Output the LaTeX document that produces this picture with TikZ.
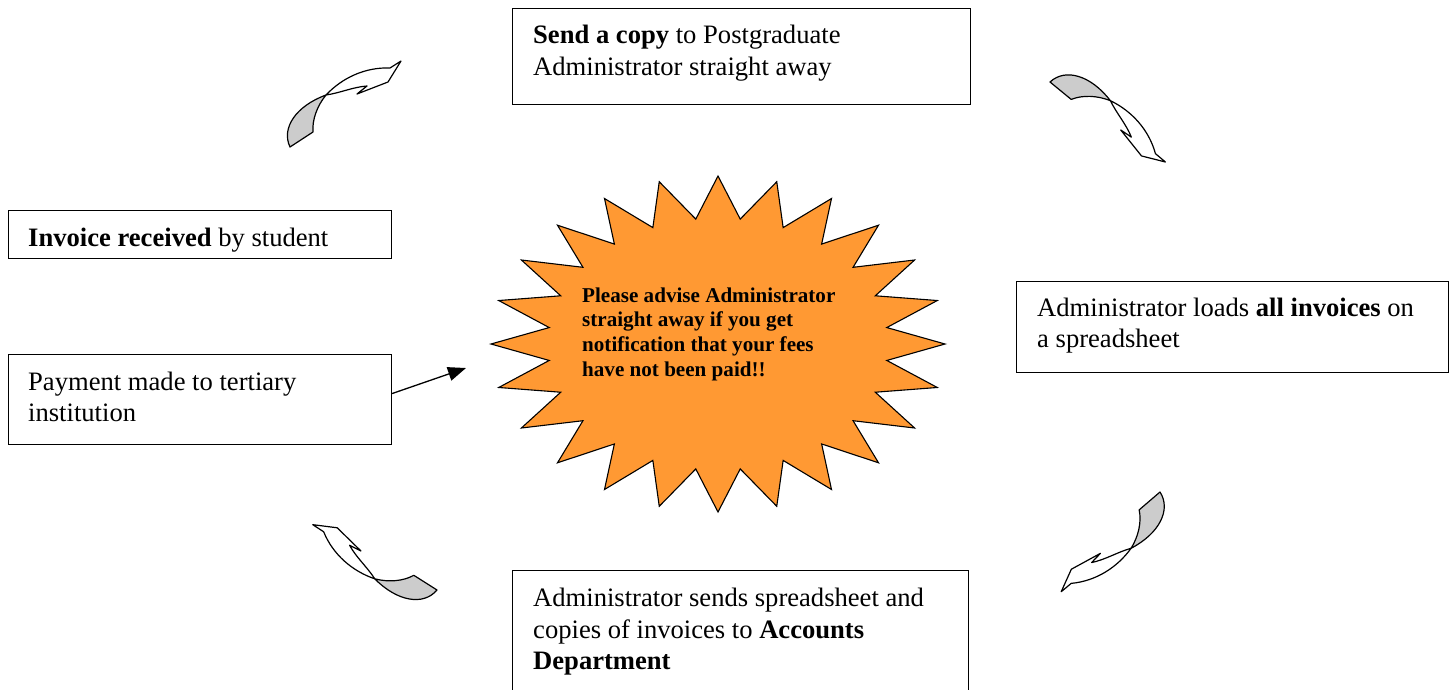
\documentclass[tikz,border=0pt]{standalone}
\usepackage{fontspec}
\setmainfont{Liberation Serif}
\usetikzlibrary{arrows.meta}
\definecolor{burst}{RGB}{255,153,51}
\definecolor{twist}{RGB}{204,204,204}
\tikzset{
  box/.style={draw, line width=1.1pt, rectangle, inner sep=0pt, anchor=north west},
  txt/.style={anchor=base west, inner sep=0pt, align=left, font=\fontsize{26.6}{31.5}\selectfont},
  msgtxt/.style={anchor=base west, inner sep=0pt, align=left, font=\bfseries\fontsize{21.1}{24.7}\selectfont},
  ribbon/.style={draw=black, line width=1.2pt, line join=round},
}
\newcommand{\twistarrowshape}{%
  \filldraw[ribbon, fill=twist]
    (290,147) .. controls (281,128) and (296,106) .. (326,95)
    .. controls (317,106) and (312,120) .. (313,132) -- cycle;
  \filldraw[ribbon, fill=white]
    (326,95) .. controls (342,78) and (365,67) .. (390,68) -- (401,61)
    -- (388,82) -- (357,94) -- (367,86)
    .. controls (353,87) and (340,93) .. (326,95) -- cycle;
}
\begin{document}
\begin{tikzpicture}[x=1pt,y=-1pt]
\useasboundingbox (0,0) rectangle (1456,689);
\clip (0,0) rectangle (1456,689);
% star burst
\begin{scope}[shift={(718,344)}]
  \filldraw[fill=burst, draw=black, line width=1.1pt, line join=miter]
    (0:227 and 168)
    \foreach \i [evaluate=\i as \r using {mod(\i,2)==0?1:0.75}] in {1,...,47}{
      -- ({\i*7.5}:{227*\r} and {168*\r})
    } -- cycle;
\end{scope}
\node[msgtxt] (msg) at (582,376.1) {Please advise Administrator\\straight away if you get\\notification that your fees\\have not been paid!!};
% boxes
\node[box, minimum width=458pt, minimum height=96pt] (copybox) at (512,8) {};
\node[txt] (copytxt) at (533,75) {\textbf{Send a copy} to Postgraduate\\Administrator straight away};
\node[box, minimum width=383pt, minimum height=48pt] (invbox) at (8,210) {};
\node[txt] (invtxt) at (28,246) {\textbf{Invoice received} by student};
\node[box, minimum width=383pt, minimum height=90pt] (paybox) at (8,354) {};
\node[txt] (paytxt) at (28,421.5) {Payment made to tertiary\\institution};
\node[box, minimum width=432pt, minimum height=91pt] (loadbox) at (1016,281) {};
\node[txt] (loadtxt) at (1037,347.5) {Administrator loads \textbf{all invoices} on\\a spreadsheet};
\node[box, minimum width=456pt, minimum height=140pt] (sendbox) at (512,570) {};
\node[txt] (sendtxt) at (533,669.5) {Administrator sends spreadsheet and\\copies of invoices to \textbf{Accounts}\\\textbf{Department}};
% connector
\coordinate (burstedge) at (466,368);
\draw[line width=1.3pt, -{Triangle[length=18pt,width=14pt]}] ([yshift=6pt]paybox.east) -- (burstedge);
% curved arrows
\begin{scope}
  \twistarrowshape
\end{scope}
\begin{scope}[shift={(1050,82)}, rotate=-72.5, shift={(-290,-147)}]
  \twistarrowshape
\end{scope}
\begin{scope}[shift={(1160,492)}, rotate=-172.5, shift={(-290,-147)}]
  \twistarrowshape
\end{scope}
\begin{scope}[shift={(437,590)}, rotate=-245.5, shift={(-290,-147)}]
  \twistarrowshape
\end{scope}
\end{tikzpicture}
\end{document}
